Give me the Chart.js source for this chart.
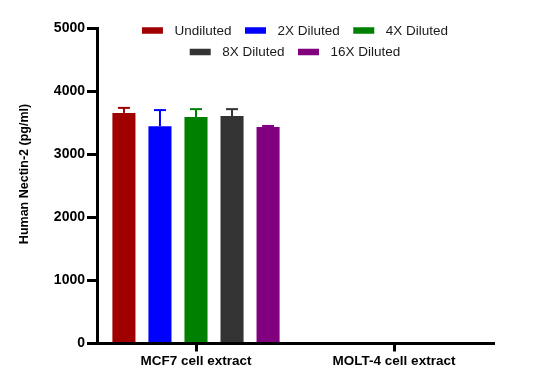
<!DOCTYPE html>
<html>
<head>
<meta charset="utf-8">
<script src="https://cdn.jsdelivr.net/npm/chart.js@4.4.1/dist/chart.umd.min.js"></script>
<style>
  html, body { margin: 0; padding: 0; background: #ffffff; }
  #wrap { width: 537px; height: 389px; }
</style>
</head>
<body>
<div id="wrap"><canvas id="c" width="537" height="389"></canvas></div>
<script>
const categories = ['MCF7 cell extract', 'MOLT-4 cell extract'];
const seriesLabels = ['Undiluted', '2X Diluted', '4X Diluted', '8X Diluted', '16X Diluted'];
const undiluted = [3660, 0];
const diluted2X = [3450, 0];
const diluted4X = [3595, 0];
const diluted8X = [3610, 0];
const diluted16X = [3435, 0];
const errUndiluted = [80, 0];
const err2X = [255, 0];
const err4X = [125, 0];
const err8X = [110, 0];
const err16X = [18, 0];
const yTicks = [0, 1000, 2000, 3000, 4000, 5000];
const yTitle = 'Human Nectin-2 (pg/ml)';

const colors = ['#A00000', '#0000FF', '#008000', '#333333', '#800080'];
const values = [undiluted, diluted2X, diluted4X, diluted8X, diluted16X];
const errors = [errUndiluted, err2X, err4X, err8X, err16X];
const FONT = '"Liberation Sans", Arial, sans-serif';

const datasets = values.map((v, i) => ({
  label: seriesLabels[i],
  data: v,
  errors: errors[i],
  backgroundColor: colors[i],
  borderWidth: 0,
  categoryPercentage: 0.91,
  barPercentage: 0.64
}));

const errorBars = {
  id: 'errorBars',
  afterDatasetsDraw(chart) {
    const ctx = chart.ctx;
    const y = chart.scales.y;
    chart.data.datasets.forEach((ds, i) => {
      const meta = chart.getDatasetMeta(i);
      meta.data.forEach((el, j) => {
        const e = ds.errors[j];
        if (!e) return;
        const top = y.getPixelForValue(ds.data[j] + e);
        ctx.save();
        ctx.strokeStyle = ds.backgroundColor;
        ctx.lineWidth = 2;
        ctx.beginPath();
        ctx.moveTo(el.x, el.y);
        ctx.lineTo(el.x, top);
        ctx.stroke();
        ctx.beginPath();
        ctx.moveTo(el.x - 6, top);
        ctx.lineTo(el.x + 6, top);
        ctx.stroke();
        ctx.restore();
      });
    });
  }
};

const customLegend = {
  id: 'customLegend',
  afterDraw(chart) {
    const ctx = chart.ctx;
    const area = chart.chartArea;
    const cx = (area.left + area.right) / 2;
    const rows = [[0, 1, 2], [3, 4]];
    const rowY = [area.top + 2, area.top + 23.5];
    const boxW = 21, boxH = 6.5, gapText = 11.5, gapItem = 13.5;
    ctx.save();
    ctx.font = '13.5px ' + FONT;
    ctx.textBaseline = 'middle';
    ctx.textAlign = 'left';
    rows.forEach((row, r) => {
      const widths = row.map(i => boxW + gapText + ctx.measureText(chart.data.datasets[i].label).width);
      const total = widths.reduce((a, b) => a + b, 0) + gapItem * (row.length - 1);
      let x = cx - total / 2;
      row.forEach((i, k) => {
        const ds = chart.data.datasets[i];
        ctx.fillStyle = ds.backgroundColor;
        ctx.fillRect(x, rowY[r] - boxH / 2, boxW, boxH);
        ctx.fillStyle = '#1a1a1a';
        ctx.fillText(ds.label, x + boxW + gapText, rowY[r] + 0.5);
        x += widths[k] + gapItem;
      });
    });
    // y axis title
    ctx.font = 'bold 12.5px ' + FONT;
    ctx.fillStyle = '#000000';
    ctx.textAlign = 'center';
    ctx.translate(25, (area.top + area.bottom) / 2 - 12);
    ctx.rotate(-Math.PI / 2);
    ctx.fillText(yTitle, 0, 0);
    ctx.restore();
  }
};

new Chart(document.getElementById('c'), {
  type: 'bar',
  data: { labels: categories, datasets },
  options: {
    responsive: false,
    animation: false,
    layout: { padding: { top: 28.5, right: 44, left: 0, bottom: 0 } },
    plugins: { legend: { display: false }, tooltip: { enabled: false } },
    scales: {
      x: {
        offset: true,
        grid: { display: true, drawOnChartArea: false, offset: false, drawTicks: true, tickLength: 8, color: '#000000', lineWidth: 3 },
        border: { display: true, color: '#000000', width: 3 },
        ticks: { color: '#000000', font: { family: FONT, size: 13.5, weight: 'bold' }, padding: 2, maxRotation: 0 },
        afterFit(scale) { scale.height = 45.5; }
      },
      y: {
        min: 0,
        max: 5000,
        afterBuildTicks(scale) { scale.ticks = yTicks.map(v => ({ value: v })); },
        grid: { display: true, drawOnChartArea: false, drawTicks: true, tickLength: 10, color: '#000000', lineWidth: 3 },
        border: { display: true, color: '#000000', width: 3 },
        ticks: { color: '#000000', font: { family: FONT, size: 14, weight: 'bold' }, padding: 2, callback: (v) => String(v) },
        afterFit(scale) { scale.width = 97; }
      }
    }
  },
  plugins: [errorBars, customLegend]
});
</script>
</body>
</html>
